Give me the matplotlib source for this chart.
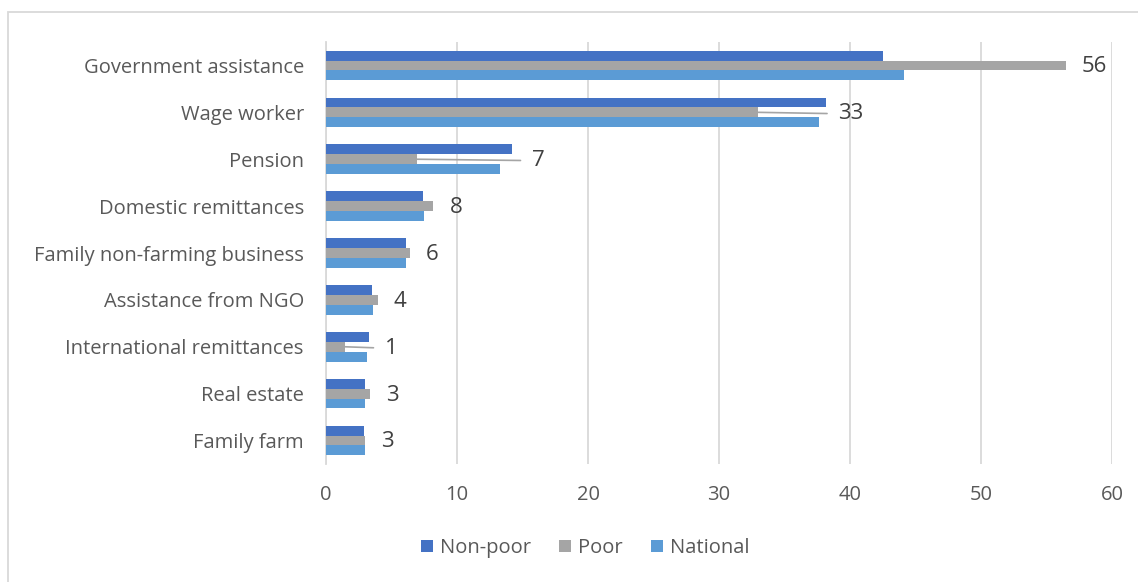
import numpy as np
import matplotlib
matplotlib.use("Agg")
import matplotlib.pyplot as plt
from matplotlib.patches import Rectangle

plt.rcParams['font.family'] = ['Open Sans', 'DejaVu Sans']

# Data (percent of households by income source)
categories = ["Government assistance", "Wage worker", "Pension", "Domestic remittances",
              "Family non-farming business", "Assistance from NGO",
              "International remittances", "Real estate", "Family farm"]
non_poor = [42.5, 38.2, 14.2, 7.4, 6.1, 3.5, 3.3, 3.0, 2.9]
poor = [56.5, 33.0, 6.95, 8.2, 6.4, 3.95, 1.45, 3.35, 3.0]
national = [44.1, 37.6, 13.3, 7.45, 6.1, 3.55, 3.1, 3.0, 2.95]
poor_labels = ["56", "33", "7", "8", "6", "4", "1", "3", "3"]

# label offsets (points) for the Poor data labels; a few use leader lines
label_dx = [11.5, 57.5, 82.5, 11.5, 11.5, 11.5, 28.5, 11.5, 11.5]
leader = [False, True, True, False, False, False, True, False, False]

c_np = "#4472C4"
c_p = "#A5A5A5"
c_n = "#5B9BD5"
txt = "#595959"

W, H = 1138, 582
fig = plt.figure(figsize=(W / 100, H / 100), dpi=100)
ax = fig.add_axes([326 / W, 1 - 464 / H, (1112 - 326) / W, (464 - 42) / H])

y = np.arange(len(categories))
h = 0.21
ax.barh(y - h, non_poor, height=h, color=c_np, label="Non-poor", zorder=3)
ax.barh(y, poor, height=h, color=c_p, label="Poor", zorder=3)
ax.barh(y + h, national, height=h, color=c_n, label="National", zorder=3)

for i in range(len(categories)):
    arrow = None
    if leader[i]:
        arrow = dict(arrowstyle='-', color="#A5A5A5", lw=1.2,
                     shrinkA=6, shrinkB=0, relpos=(0, 0.5))
    ax.annotate(poor_labels[i], xy=(poor[i], y[i]), xytext=(label_dx[i], -1),
                textcoords='offset points', ha='left', va='center',
                fontsize=16, color="#404040", arrowprops=arrow, zorder=4)

ax.set_xlim(0, 60)
ax.set_ylim(len(categories) - 0.5, -0.5)
ax.set_xticks(np.arange(0, 61, 10))
ax.set_yticks(y)
ax.set_yticklabels(categories)
ax.tick_params(axis='both', length=0, labelsize=14.5, colors=txt)
ax.tick_params(axis='x', pad=15)
ax.tick_params(axis='y', pad=16)
ax.grid(axis='x', color="#D9D9D9", lw=1.3, zorder=0)
for s in ['top', 'right', 'bottom']:
    ax.spines[s].set_visible(False)
ax.spines['left'].set_color("#D9D9D9")
ax.spines['left'].set_linewidth(1.3)

# outer chart border (only top and left edges fall inside the image)
fig.patches.append(Rectangle((7.5 / W, -0.1), 2, 1.1 - 11.5 / H, transform=fig.transFigure,
                             fill=False, edgecolor="#D9D9D9", lw=1.3))

leg = fig.legend(loc='center', bbox_to_anchor=(585 / W, 1 - 548 / H), ncol=3,
                 frameon=False, fontsize=14.5, handlelength=0.6, handleheight=0.6,
                 handletextpad=0.35, columnspacing=1.4, labelcolor=txt)

fig.savefig("out.png", dpi=100)
